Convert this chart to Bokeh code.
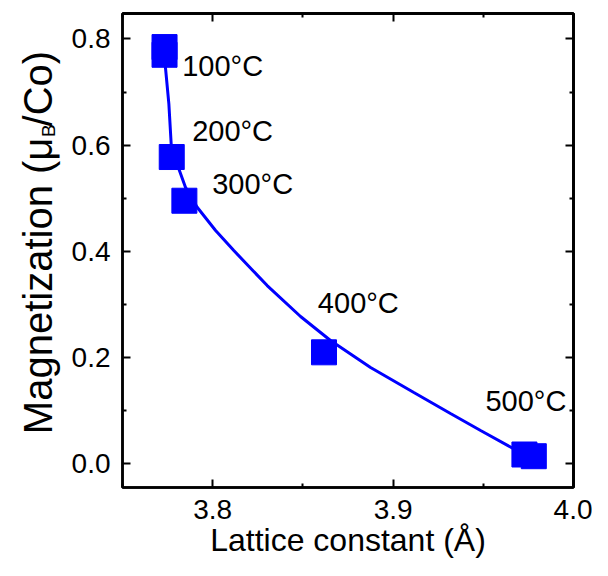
from bokeh.plotting import figure
from bokeh.layouts import row
from bokeh.models import (ColumnDataSource, LinearAxis, FixedTicker,
                          PrintfTickFormatter, Range1d)
from bokeh.core.properties import value
from bokeh.embed import file_html
from bokeh.resources import INLINE

# ---- data ----
lattice = [3.7733, 3.7733, 3.7773, 3.7843, 3.8617, 3.9728, 3.9780]
magnet = [0.7848, 0.7703, 0.5778, 0.4955, 0.2101, 0.0177, 0.0145]

fit_x = [3.7736, 3.7738, 3.7757, 3.7770, 3.7812, 3.7849, 3.7914, 3.8016,
         3.8117, 3.8302, 3.8487, 3.8653, 3.8875, 3.9115, 3.9318, 3.9485,
         3.9669, 3.9751]
fit_y = [0.7782, 0.7468, 0.6779, 0.6013, 0.5555, 0.5209, 0.4832, 0.4394,
         0.4017, 0.3358, 0.2775, 0.2323, 0.1815, 0.1344, 0.0949, 0.0629,
         0.0284, 0.0139]

label_text = ["100°C", "200°C", "300°C", "400°C", "500°C"]
label_x = [3.7831, 3.7886, 3.7997, 3.8583, 3.9512]
label_y = [0.7500, 0.6263, 0.5273, 0.3033, 0.1180]

x_ticks = [3.8, 3.9, 4.0]
x_minor = [3.75, 3.85, 3.95]
y_ticks = [0.0, 0.2, 0.4, 0.6, 0.8]
y_minor = [0.1, 0.3, 0.5, 0.7]

x_title = "Lattice constant (Å)"
y_title_parts = ["Magnetization (μ", "B", "/Co)"]

FONT = "Liberation Sans"
BLUE = "#0000FF"

TOTAL_W, TOTAL_H = 592, 560
TITLE_W = 62

# ---------------- main plot ----------------
p = figure(width=TOTAL_W - TITLE_W, height=TOTAL_H, output_backend="svg",
           toolbar_location=None,
           x_range=Range1d(3.75, 4.0), y_range=Range1d(-0.0444, 0.848),
           min_border_left=122 - TITLE_W, min_border_right=19,
           min_border_top=13, min_border_bottom=73,
           background_fill_color="white", border_fill_color="white")
p.grid.visible = False
p.outline_line_color = "black"
p.outline_line_width = 2.5

fmt = PrintfTickFormatter(format="%.1f")

def ticks_style(ax):
    ax.axis_line_color = "black"
    ax.axis_line_width = 2.5
    ax.major_tick_in = 8
    ax.major_tick_out = 0
    ax.minor_tick_in = 4
    ax.minor_tick_out = 0
    ax.major_tick_line_width = 2
    ax.minor_tick_line_width = 2
    ax.major_tick_line_color = "black"
    ax.minor_tick_line_color = "black"

p.xaxis.ticker = FixedTicker(ticks=x_ticks, minor_ticks=x_minor)
p.xaxis.formatter = fmt
p.yaxis.ticker = FixedTicker(ticks=y_ticks, minor_ticks=y_minor)
p.yaxis.formatter = fmt
for ax in list(p.xaxis) + list(p.yaxis):
    ticks_style(ax)
    ax.major_label_text_font = FONT
    ax.major_label_text_font_size = "28px"
    ax.major_label_text_color = "black"
for ax in p.xaxis:
    ax.major_label_standoff = 12
    ax.axis_label = x_title
    ax.axis_label_text_font = FONT
    ax.axis_label_text_font_size = "32px"
    ax.axis_label_text_font_style = "normal"
    ax.axis_label_text_color = "black"
    ax.axis_label_standoff = 0
for ax in p.yaxis:
    ax.major_label_standoff = 12

# mirrored tick marks (no labels) on the right and top
def mirror(ticks, length, side):
    ax = LinearAxis(ticker=FixedTicker(ticks=[], minor_ticks=ticks))
    ticks_style(ax)
    ax.minor_tick_in = length
    ax.major_label_standoff = 0
    p.add_layout(ax, side)

mirror(y_ticks, 8, "right")
mirror(y_minor, 4, "right")
mirror(x_ticks, 8, "above")
mirror(x_minor, 4, "above")

# fitted curve
p.line(x="x", y="y", source=ColumnDataSource(dict(x=fit_x, y=fit_y)),
       line_color=BLUE, line_width=3)

# data squares
p.scatter(x="x", y="y", source=ColumnDataSource(dict(x=lattice, y=magnet)),
          marker="square", size=25, fill_color=BLUE, line_color=BLUE)

# temperature labels
p.text(x="x", y="y", text="t",
       source=ColumnDataSource(dict(x=label_x, y=label_y, t=label_text)),
       text_font=value(FONT), text_font_size=value("29px"),
       text_color="black", text_align="left", text_baseline="alphabetic")

# ---------------- y-axis title panel (for the subscript) ----------------
t = figure(width=TITLE_W, height=TOTAL_H, output_backend="svg",
           toolbar_location=None, x_axis_type=None, y_axis_type=None,
           x_range=Range1d(0, TITLE_W), y_range=Range1d(0, TOTAL_H),
           min_border=0, outline_line_color=None, title=None,
           background_fill_color="white", border_fill_color="white")
t.grid.visible = False

def vtext(x, y, s, size):
    t.text(x=[x], y=[y], text=[s], angle=90, angle_units="deg",
           text_font=value(FONT), text_font_size=value(size),
           text_color="black", text_align="center", text_baseline="middle")

vtext(37.8, TOTAL_H - 321.8, y_title_parts[0], "40px")
vtext(48.0, TOTAL_H - 138.5, y_title_parts[1], "19px")
vtext(37.8, TOTAL_H - 88.8, y_title_parts[2], "40px")

layout = row(t, p, spacing=0)
open("out.html", "w").write(file_html(layout, INLINE))
